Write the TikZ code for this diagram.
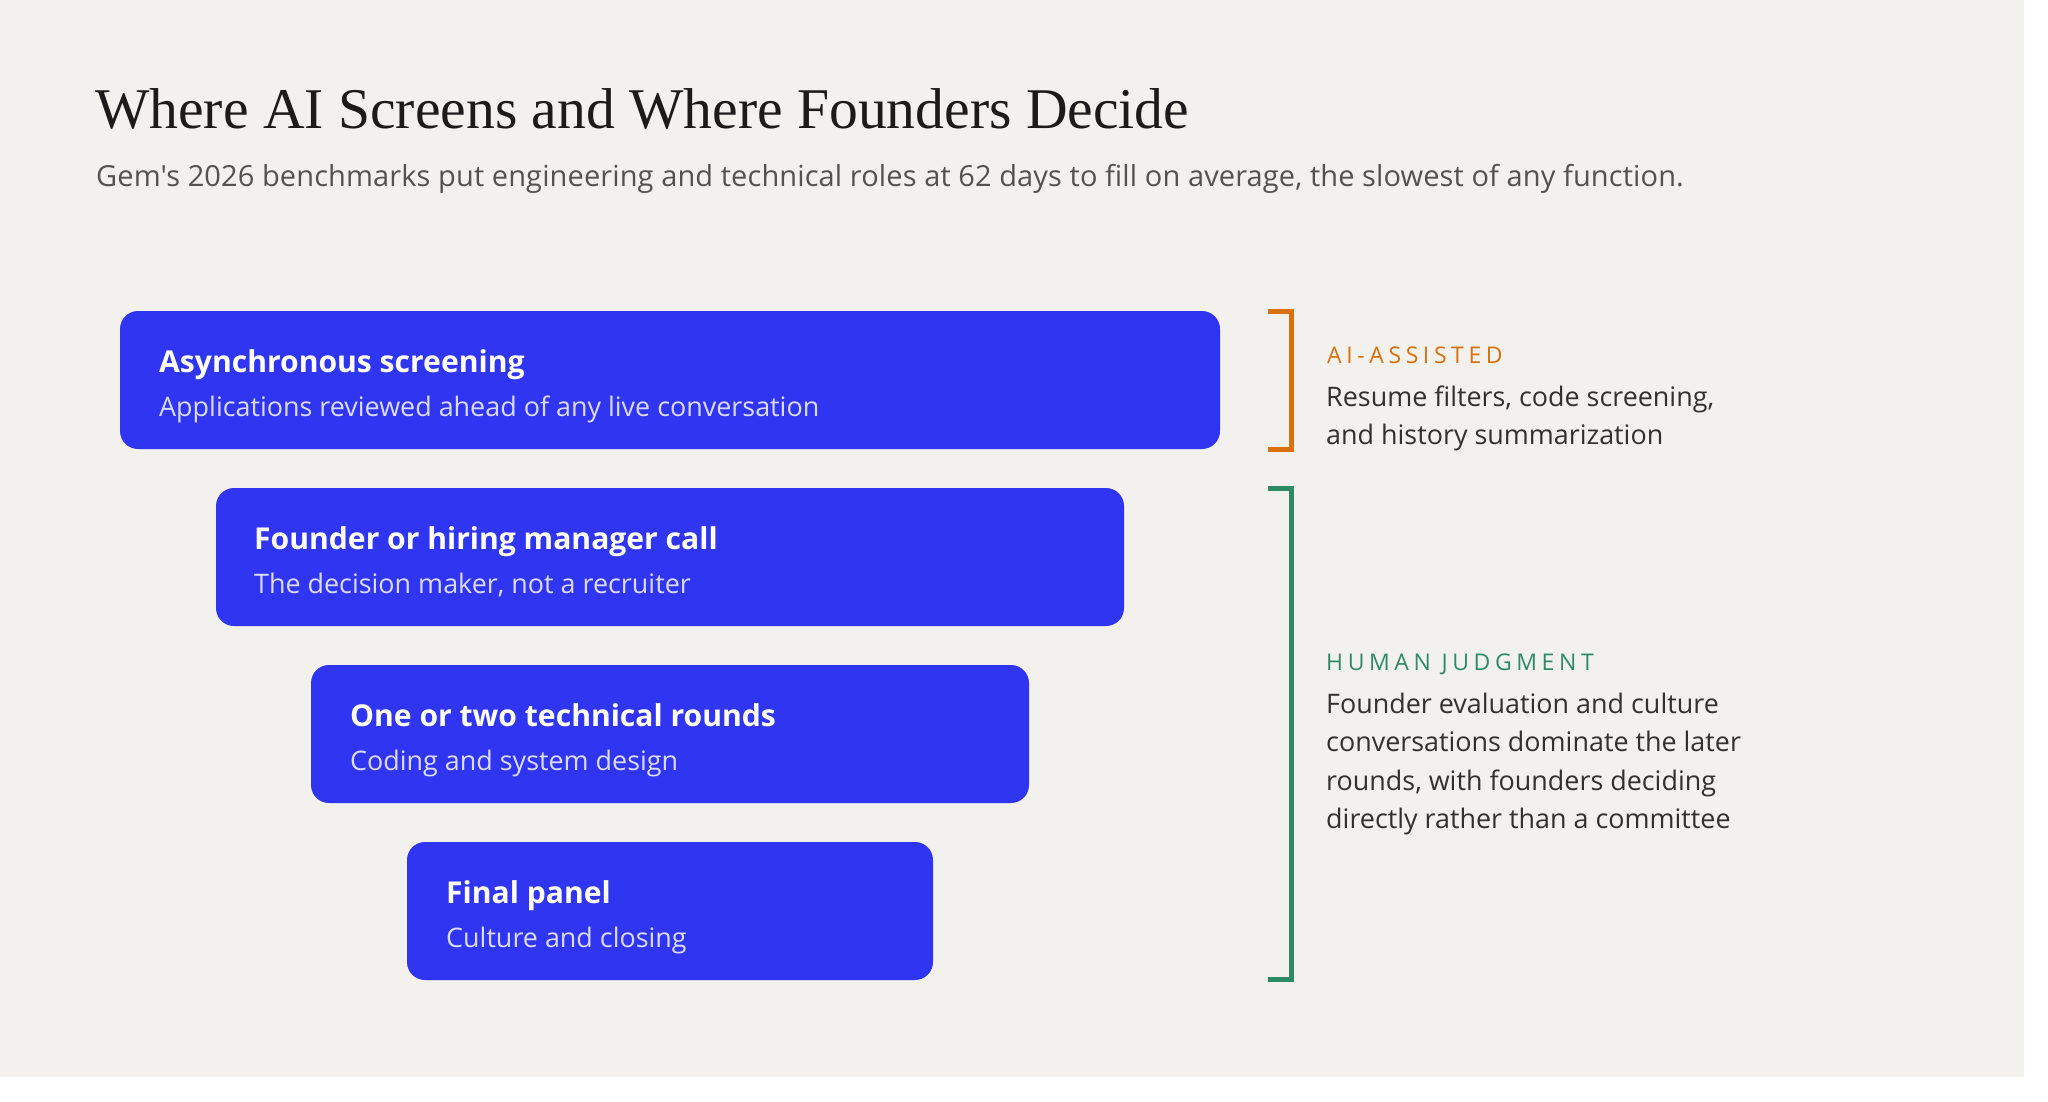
\documentclass[tikz,border=0pt]{standalone}
\usepackage{fontspec}
\setmainfont{Open Sans}
\newfontfamily\titlefont{Liberation Serif}
\newfontfamily\labelfont[LetterSpace=20]{Open Sans}
\newfontfamily\subfont[LetterSpace=0.4]{Open Sans}
\definecolor{bg}{HTML}{F2F1EE}
\definecolor{boxblue}{HTML}{2F35F0}
\definecolor{subtxt}{HTML}{DADBFF}
\definecolor{ttl}{HTML}{1C1B1A}
\definecolor{gray1}{HTML}{55524E}
\definecolor{body}{HTML}{33312E}
\definecolor{aiorange}{HTML}{D9700A}
\definecolor{humgreen}{HTML}{2E8A63}
\begin{document}
\begin{tikzpicture}[x=1pt,y=-1pt,
  stage/.style={fill=boxblue, draw=none, rounded corners=18pt, minimum height=138pt, inner sep=0pt},
  stitle/.style={anchor=base west, inner sep=0pt, text=white, font=\bfseries\fontsize{30.1}{36}\selectfont},
  ssub/.style={anchor=base west, inner sep=0pt, text=subtxt, font=\fontsize{26.9}{32}\selectfont},
  lab/.style={anchor=base west, inner sep=0pt, font=\labelfont\fontsize{23}{27}\selectfont},
  bodytxt/.style={anchor=base west, inner sep=0pt, text=body, font=\fontsize{26.9}{32}\selectfont},
  brk/.style={line width=5pt, line join=miter, line cap=butt}]
\useasboundingbox (0,0) rectangle (2048,1101);
\fill[white] (0,0) rectangle (2048,1101);
\fill[bg] (0,0) rectangle (2024,1077);
\node[anchor=base west, inner sep=0pt, text=ttl, font=\titlefont\fontsize{57.6}{66}\selectfont] (title) at (95,128) {Where AI Screens and Where Founders Decide};
\node[anchor=base west, inner sep=0pt, text=gray1, font=\subfont\fontsize{29.0}{34}\selectfont] (subtitle) at (96,186) {Gem's 2026 benchmarks put engineering and technical roles at 62 days to fill on average, the slowest of any function.};
% stages
\node[stage, minimum width=1100pt] (b1) at (670,380) {};
\node[stage, minimum width=908pt] (b2) at (670,557) {};
\node[stage, minimum width=718pt] (b3) at (670,734) {};
\node[stage, minimum width=526pt] (b4) at (670,911) {};
\node[stitle] (t1) at (159,372) {Asynchronous screening};
\node[ssub] (s1) at (159,416) {Applications reviewed ahead of any live conversation};
\node[stitle] (t2) at (254,549) {Founder or hiring manager call};
\node[ssub] (s2) at (254,593) {The decision maker, not a recruiter};
\node[stitle] (t3) at (350,726) {One or two technical rounds};
\node[ssub] (s3) at (350,770) {Coding and system design};
\node[stitle] (t4) at (446,903) {Final panel};
\node[ssub] (s4) at (446,947) {Culture and closing};
% brackets
\coordinate (o1) at (1268,311.5);
\coordinate (o2) at (1268,449.5);
\coordinate (g1) at (1268,488.5);
\coordinate (g2) at (1268,979.5);
\draw[brk, aiorange] (o1) -- ++(23.5,0) |- (o2);
\draw[brk, humgreen] (g1) -- ++(23.5,0) |- (g2);
% labels
\node[lab, text=aiorange] (ail) at (1327,363) {AI-ASSISTED};
\node[bodytxt] (aib1) at (1326,406) {Resume filters, code screening,};
\node[bodytxt] (aib2) at (1326,444.5) {and history summarization};
\node[lab, text=humgreen] (hl) at (1326,670) {HUMAN JUDGMENT};
\node[bodytxt] (hb1) at (1326,713) {Founder evaluation and culture};
\node[bodytxt] (hb2) at (1326,751.5) {conversations dominate the later};
\node[bodytxt] (hb3) at (1326,790) {rounds, with founders deciding};
\node[bodytxt] (hb4) at (1326,828.5) {directly rather than a committee};
\end{tikzpicture}
\end{document}
